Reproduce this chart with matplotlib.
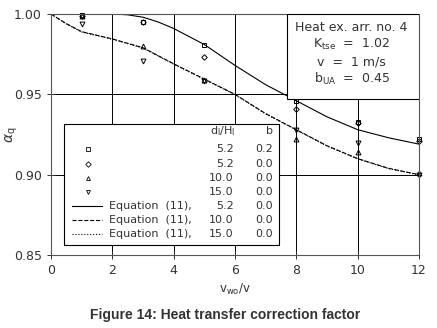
import matplotlib
matplotlib.use('Agg')
import matplotlib.pyplot as plt

# measured points (d_l/H_l, b)
x_meas = [1, 3, 5, 8, 10, 12]
sq_52_b02 = [0.9995, 0.995, 0.981, 0.946, 0.933, 0.922]
dia_52 = [0.999, 0.995, 0.973, 0.941, 0.932, 0.921]
tri_up_10 = [0.999, 0.980, 0.959, 0.922, 0.914, 0.901]
tri_dn_15 = [0.994, 0.971, 0.958, 0.928, 0.920, 0.900]

# equation (11) curves
x_eq52 = [0, 1, 2, 2.5, 3, 3.5, 4, 5, 6, 7, 8, 9, 10, 11, 12]
y_eq52 = [1.0, 1.0, 1.0, 0.9995, 0.998, 0.995, 0.991, 0.981, 0.968, 0.956, 0.946, 0.936, 0.928, 0.923, 0.919]
x_eq10 = [0, 0.5, 1, 2, 3, 4, 5, 6, 7, 8, 9, 10, 11, 12]
y_eq10 = [1.0, 0.994, 0.989, 0.9845, 0.979, 0.969, 0.9595, 0.950, 0.938, 0.928, 0.918, 0.910, 0.904, 0.900]
y_eq15 = [1.0, 0.9938, 0.9888, 0.9843, 0.9788, 0.9688, 0.9593, 0.9498, 0.9378, 0.9278, 0.9178, 0.9098, 0.9038, 0.8998]

legend_rows = [('5.2', '0.2'), ('5.2', '0.0'), ('10.0', '0.0'), ('15.0', '0.0'),
               ('5.2', '0.0'), ('10.0', '0.0'), ('15.0', '0.0')]

fig = plt.figure(figsize=(4.37, 3.28), dpi=100)
ax = fig.add_axes([0.1167, 0.2226, 0.8421, 0.7347])

ax.plot(x_eq52, y_eq52, '-', color='black', lw=0.8)
ax.plot(x_eq10, y_eq10, '--', color='black', lw=0.8, dashes=(4, 1.5))
ax.plot(x_eq10, y_eq15, ':', color='black', lw=0.8)

mk = dict(linestyle='none', mfc='none', mec='black', mew=0.7, ms=3.5, clip_on=False)
ax.plot(x_meas, sq_52_b02, marker='s', **mk)
ax.plot(x_meas, dia_52, marker='D', **dict(mk, ms=2.8))
ax.plot(x_meas, tri_up_10, marker='^', **mk)
ax.plot(x_meas, tri_dn_15, marker='v', **mk)

ax.set_xlim(0, 12)
ax.set_ylim(0.85, 1.00)
ax.set_xticks(range(0, 13, 2))
ax.set_yticks([0.85, 0.90, 0.95, 1.00])
ax.set_yticklabels(['0.85', '0.90', '0.95', '1.00'])
ax.grid(True, color='black', lw=0.7)
ax.tick_params(direction='inout', length=6, width=0.7, labelsize=9, colors='#333333')
for s in ax.spines.values():
    s.set_linewidth(0.8)
    s.set_color('#555555')

ax.set_ylabel(r'$\alpha_\mathregular{q}$', fontsize=10, color='#333333')
ax.yaxis.set_label_coords(-0.085, 0.5)
ax.set_xlabel(r'v$_\mathregular{wo}$/v', fontsize=8.5, color='#333333')
ax.xaxis.set_label_coords(0.5, -0.11)

# info box, top right
ax.add_patch(plt.Rectangle((7.7, 0.947), 4.3, 0.053, transform=ax.transData,
                           facecolor='white', edgecolor='black', lw=0.8, zorder=5))
info = ['Heat ex. arr. no. 4', r'K$_\mathregular{tse}$  =  1.02',
        'v  =  1 m/s', r'b$_\mathregular{UA}$  =  0.45']
for i, t in enumerate(info):
    ax.text(9.8, 0.9915 - i * 0.0106, t, ha='center', va='center', fontsize=9,
            color='#333333', zorder=6)

# legend box
ax.add_patch(plt.Rectangle((0.42, 0.856), 7.0, 0.0755, transform=ax.transData,
                           facecolor='white', edgecolor='black', lw=0.8, zorder=5))
row_y0 = 0.9245
dy = 0.0088
ax.text(6.0, row_y0 + 0.3 * dy, r'd$_\mathregular{l}$/H$_\mathregular{l}$', ha='right', va='center',
        fontsize=8, color='#333333', zorder=6)
ax.text(7.25, row_y0 + 0.3 * dy, 'b', ha='right', va='center', fontsize=8, color='#333333', zorder=6)
markers = ['s', 'D', '^', 'v']
styles = ['-', '--', ':']
for i, (d, b) in enumerate(legend_rows):
    y = row_y0 - (i + 1) * dy
    if i < 4:
        ax.plot([1.2], [y], marker=markers[i], linestyle='none', mfc='none', mec='black',
                mew=0.6, ms=2.8, zorder=6)
    else:
        ax.plot([0.7, 1.65], [y, y], styles[i - 4], color='black', lw=0.8, zorder=6)
        ax.text(1.9, y, 'Equation  (11),', ha='left', va='center', fontsize=8,
                color='#333333', zorder=6)
    ax.text(5.95, y, d, ha='right', va='center', fontsize=8, color='#333333', zorder=6)
    ax.text(7.25, y, b, ha='right', va='center', fontsize=8, color='#333333', zorder=6)

fig.text(0.515, 0.04, 'Figure 14: Heat transfer correction factor', ha='center', va='center',
         fontsize=10, fontweight='bold', family='Liberation Sans', color='#333333')

fig.savefig('out.png', dpi=100)
